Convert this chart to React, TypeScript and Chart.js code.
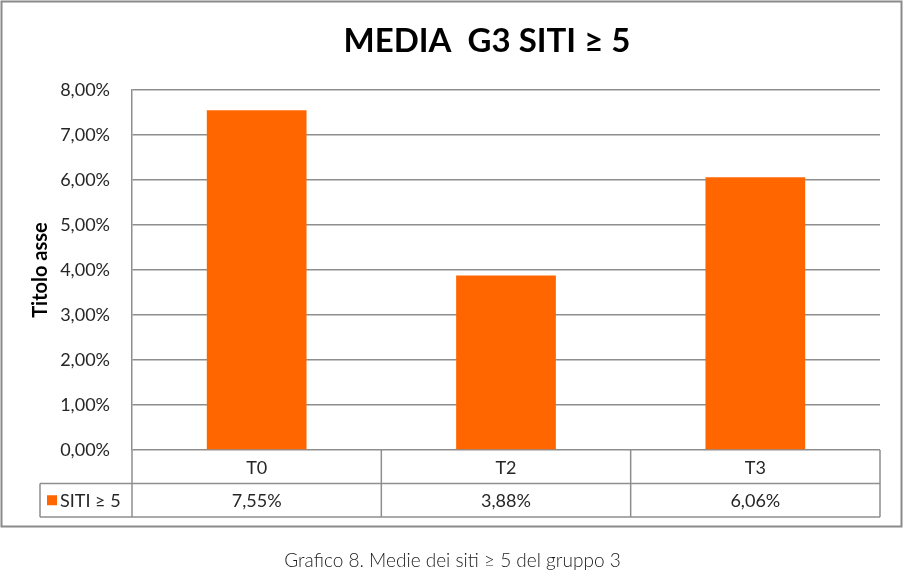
import React, { useEffect, useRef } from 'react'
import { Chart, registerables } from 'chart.js'

Chart.register(...registerables)

const categories = ['T0', 'T2', 'T3']
const sitiValues = [0.0755, 0.0388, 0.0606]
const seriesLabel = 'SITI ≥ 5'
const chartTitle = 'MEDIA  G3 SITI ≥ 5'
const axisTitle = 'Titolo asse'
const caption = 'Grafico 8. Medie dei siti ≥ 5 del gruppo 3'
const yMin = 0
const yMax = 0.08
const yStep = 0.01

const BAR_COLOR = '#FF6600'
const LINE_COLOR = '#8e8e8e'
const TEXT_COLOR = '#262626'
const FONT = 'Lato, "Open Sans", sans-serif'

const pct = (v: number) => (v * 100).toFixed(2).replace('.', ',') + '%'

// outer frame, title and the Excel-like data table under the plot
const frameAndTable = {
  id: 'frameAndTable',
  beforeDraw(chart: Chart) {
    const { ctx } = chart
    ctx.save()
    ctx.fillStyle = '#ffffff'
    ctx.fillRect(0, 0, chart.width, chart.height)
    ctx.strokeStyle = '#8a8a8a'
    ctx.lineWidth = 2
    ctx.strokeRect(1.5, 1.5, 900, 525)
    ctx.fillStyle = '#000000'
    ctx.font = `bold 33px ${FONT}`
    ctx.textAlign = 'center'
    ctx.textBaseline = 'middle'
    ctx.fillText(chartTitle, 487, 41)
    ctx.restore()
  },
  afterDraw(chart: Chart) {
    const { ctx, chartArea } = chart
    const xs = chart.scales.x
    const { left, right, bottom } = chartArea
    const n = categories.length
    const colW = (right - left) / n
    const rowH = 33.5
    const legendLeft = 40
    const r1 = bottom + rowH
    const r2 = bottom + rowH * 2

    ctx.save()
    ctx.strokeStyle = LINE_COLOR
    ctx.lineWidth = 1.5
    ctx.beginPath()
    ctx.moveTo(legendLeft, r1)
    ctx.lineTo(right, r1)
    ctx.moveTo(legendLeft, r2)
    ctx.lineTo(right, r2)
    ctx.moveTo(legendLeft, r1)
    ctx.lineTo(legendLeft, r2)
    for (let i = 0; i <= n; i++) {
      const x = left + i * colW
      ctx.moveTo(x, bottom)
      ctx.lineTo(x, r2)
    }
    ctx.stroke()

    ctx.fillStyle = TEXT_COLOR
    ctx.font = `18px ${FONT}`
    ctx.textAlign = 'center'
    ctx.textBaseline = 'middle'
    categories.forEach((c, i) => {
      const x = xs.getPixelForValue(i)
      ctx.fillText(c, x, bottom + rowH / 2 + 1)
      ctx.fillText(pct(sitiValues[i]), x, r1 + rowH / 2 + 1)
    })

    ctx.fillStyle = BAR_COLOR
    ctx.fillRect(47, r1 + rowH / 2 - 5, 10, 10)
    ctx.fillStyle = TEXT_COLOR
    ctx.textAlign = 'left'
    ctx.fillText(seriesLabel, 60, r1 + rowH / 2 + 1)
    ctx.restore()
  },
}

export default function App() {
  const canvasRef = useRef<HTMLCanvasElement>(null)

  useEffect(() => {
    if (!canvasRef.current) return
    const chart = new Chart(canvasRef.current, {
      type: 'bar',
      data: {
        labels: categories,
        datasets: [
          {
            label: seriesLabel,
            data: sitiValues,
            backgroundColor: BAR_COLOR,
            borderWidth: 0,
            categoryPercentage: 1,
            barPercentage: 0.4,
          },
        ],
      },
      options: {
        responsive: false,
        animation: false,
        layout: { padding: { top: 90, right: 25, bottom: 130, left: 0 } },
        plugins: {
          legend: { display: false },
          title: { display: false },
          tooltip: { enabled: false },
        },
        scales: {
          x: { display: false },
          y: {
            min: yMin,
            max: yMax,
            afterFit: (s: any) => {
              s.width = 132
            },
            ticks: {
              stepSize: yStep,
              padding: 22,
              color: TEXT_COLOR,
              font: { family: FONT, size: 18 },
              callback: (v: any) => pct(Number(v)),
            },
            grid: { color: LINE_COLOR, lineWidth: 1.5, drawTicks: false },
            border: { color: LINE_COLOR, width: 1.5 },
            title: {
              display: true,
              text: axisTitle,
              color: '#000000',
              font: { family: FONT, size: 20, weight: 'bold' },
              padding: { top: 29, bottom: 0 },
            },
          },
        },
      },
      plugins: [frameAndTable],
    })
    return () => chart.destroy()
  }, [])

  return (
    <div style={{ position: 'absolute', left: 0, top: 0, width: 905, height: 580, background: '#fff' }}>
      <canvas ref={canvasRef} width={905} height={580} style={{ display: 'block' }} />
      <div
        style={{
          position: 'absolute',
          left: 0,
          top: 548,
          width: 905,
          textAlign: 'center',
          fontFamily: FONT,
          fontWeight: 300,
          fontSize: 19,
          color: '#1a1a1a',
        }}
      >
        {caption}
      </div>
    </div>
  )
}
